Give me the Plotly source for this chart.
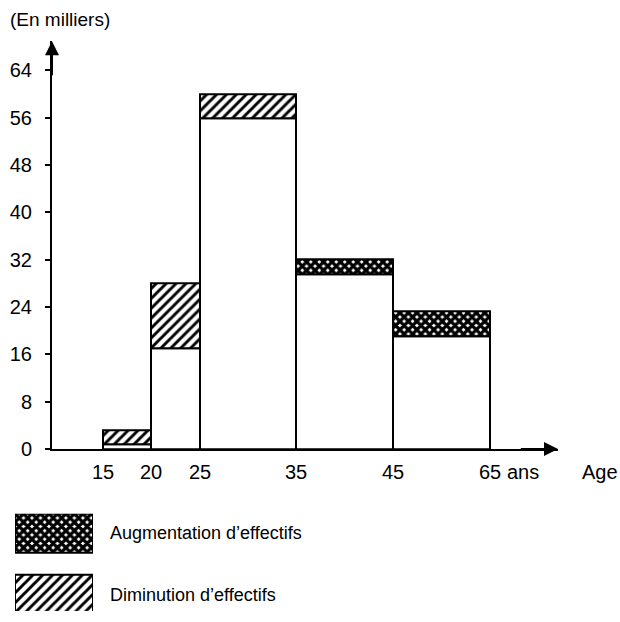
import numpy as np
import plotly.graph_objects as go

# ---- data ----
age_labels = ["15", "20", "25", "35", "45", "65"]
group_span = [1, 1, 2, 2, 2]          # relative drawn width of each age group
lower = [0.8, 17, 56, 29.5, 19]        # white part (en milliers)
upper = [3.2, 28, 60, 32, 23.3]        # top of hatched part (en milliers)
kind = ["dim", "dim", "dim", "aug", "aug"]
y_ticks = [0, 8, 16, 24, 32, 40, 48, 56, 64]
legend_labels = ["Augmentation d’effectifs", "Diminution d’effectifs"]

FONT = "Liberation Sans, Arial, sans-serif"
W, H = 620, 622

span = np.array(group_span, dtype=float)
edges = np.concatenate([[0], np.cumsum(span)])
centers = edges[:-1] + span / 2
lo = np.array(lower)
up = np.array(upper)

x_range = [-1.054, 9.406]
y_range = [0, 68.94]
XLAB_Y = (H - 481) / H

pat_dim = dict(shape="/", fgcolor="black", bgcolor="white", size=7, solidity=0.42, fillmode="replace")
pat_aug = dict(shape="x", fgcolor="black", bgcolor="white", size=6, solidity=0.78, fillmode="replace")

fig = go.Figure()

# white base parts
fig.add_trace(go.Bar(x=centers, y=lo, width=span, base=0,
                     marker=dict(color="white", line=dict(color="black", width=2)),
                     showlegend=False, hoverinfo="skip"))

for k, pat in (("dim", pat_dim), ("aug", pat_aug)):
    idx = [i for i, t in enumerate(kind) if t == k]
    fig.add_trace(go.Bar(x=centers[idx], y=(up - lo)[idx], base=lo[idx], width=span[idx],
                         marker=dict(color="white", pattern=pat,
                                     line=dict(color="black", width=2)),
                         showlegend=False, hoverinfo="skip"))

# legend boxes on a small helper axis
for j, pat in enumerate((pat_aug, pat_dim)):
    fig.add_trace(go.Bar(x=[0.5], y=[40], base=[j * 62], width=[1],
                         xaxis="x2", yaxis="y2",
                         marker=dict(color="white", pattern=pat,
                                     line=dict(color="black", width=2)),
                         showlegend=False, hoverinfo="skip"))

fig.update_layout(
    width=W, height=H, autosize=False,
    margin=dict(l=0, r=0, t=0, b=0),
    paper_bgcolor="white", plot_bgcolor="white",
    barmode="overlay", bargap=0,
    font=dict(family=FONT, color="black", size=20),
    xaxis=dict(domain=[52 / W, 558 / W], range=x_range,
               tickvals=edges.tolist(), showticklabels=False,
               showgrid=False, zeroline=False, showline=True,
               linecolor="black", linewidth=2, ticks="",
               fixedrange=True),
    yaxis=dict(domain=[(H - 457) / H, (H - 42) / H], range=y_range,
               tickvals=y_ticks, showgrid=False, zeroline=False,
               showline=True, linecolor="black", linewidth=2,
               ticks="outside", ticklen=5, tickwidth=2, tickcolor="black",
               tickfont=dict(size=20), ticklabelstandoff=9,
               fixedrange=True),
    xaxis2=dict(domain=[15 / W, 93 / W], range=[0, 1], visible=False,
                anchor="y2", fixedrange=True),
    yaxis2=dict(domain=[0, 99 / H], range=[99, 0], visible=False,
                anchor="x2", fixedrange=True),
)

annotations = [
    # axis arrows
    dict(x=x_range[0], y=y_range[1], ax=x_range[0], ay=y_range[1] - 6,
         xref="x", yref="y", axref="x", ayref="y", text="", showarrow=True,
         arrowhead=2, arrowsize=1.4, arrowwidth=2, arrowcolor="black"),
    dict(x=x_range[1], y=0, ax=x_range[1] - 0.8, ay=0,
         xref="x", yref="y", axref="x", ayref="y", text="", showarrow=True,
         arrowhead=2, arrowsize=1.4, arrowwidth=2, arrowcolor="black"),
]
# x tick labels at the age-group edges
for xv, lab in zip(edges, age_labels):
    annotations.append(dict(x=xv, y=XLAB_Y, xref="x", yref="paper", text=lab,
                            showarrow=False, xanchor="center", yanchor="middle",
                            font=dict(size=20)))
annotations += [
    dict(x=edges[-1], y=XLAB_Y, xref="x", yref="paper", text="ans",
         showarrow=False, xanchor="left", yanchor="middle", xshift=15,
         font=dict(size=20)),
    dict(x=600 / W, y=XLAB_Y, xref="paper", yref="paper", text="Age",
         showarrow=False, xanchor="center", yanchor="middle", font=dict(size=20)),
    dict(x=8 / W, y=(H - 20) / H, xref="paper", yref="paper", text="(En milliers)",
         showarrow=False, xanchor="left", yanchor="middle", font=dict(size=19)),
    dict(x=108 / W, y=(H - 543) / H, xref="paper", yref="paper", text=legend_labels[0],
         showarrow=False, xanchor="left", yanchor="middle", font=dict(size=18)),
    dict(x=108 / W, y=(H - 606) / H, xref="paper", yref="paper", text=legend_labels[1],
         showarrow=False, xanchor="left", yanchor="middle", font=dict(size=18)),
]
fig.update_layout(annotations=annotations)

fig.write_html("out.html",
               config={"displayModeBar": False, "responsive": False},
               post_script="document.body.style.margin='0';document.body.style.overflow='hidden';")
